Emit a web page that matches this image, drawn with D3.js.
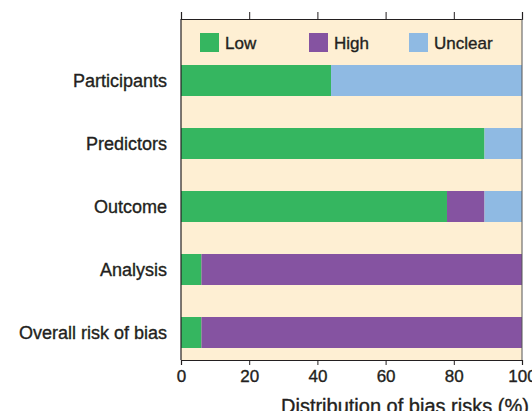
<!DOCTYPE html>
<html>
<head>
<meta charset="utf-8">
<script src="https://cdn.jsdelivr.net/npm/d3@7"></script>
<style>
  body { margin: 0; background: #fff; }
  text { font-family: "Liberation Sans", Arial, sans-serif; fill: #231f20; stroke: #231f20; stroke-width: 0.35px; }
</style>
</head>
<body>
<div id="chart"></div>
<script>
'use strict';

/*** Data */
const categories = ["Participants", "Predictors", "Outcome", "Analysis", "Overall risk of bias"];
const lowValues = [44, 89, 78, 6, 6];
const highValues = [0, 0, 11, 94, 94];
const unclearValues = [56, 11, 11, 0, 0];
const seriesNames = ["Low", "High", "Unclear"];
const xTicks = [0, 20, 40, 60, 80, 100];

/*** Dimensions */
const w = 532;
const h = 411;
const plot = { left: 181, right: 522, top: 19, bottom: 360 };
const colors = { Low: "#35b660", High: "#8553a1", Unclear: "#8fbae3" };

const svg = d3.select("#chart")
    .append("svg")
    .attr("width", w)
    .attr("height", h);

/** Scales */
const xScale = d3.scaleLinear()
    .domain([0, 100])
    .range([plot.left, plot.right]);

const yScale = d3.scaleBand()
    .domain(categories)
    .range([49, 364])
    .paddingInner(0.508)
    .paddingOuter(0.254);

/** Background */
svg.append("rect")
    .attr("x", plot.left)
    .attr("y", plot.top)
    .attr("width", plot.right - plot.left)
    .attr("height", plot.bottom - plot.top)
    .attr("fill", "#feefd3");

/** Stacked bars */
const rows = categories.map((c, i) => ({
    category: c, Low: lowValues[i], High: highValues[i], Unclear: unclearValues[i]
}));
const stacked = d3.stack().keys(seriesNames)(rows);

svg.append("g")
    .selectAll("g")
    .data(stacked)
    .join("g")
    .attr("fill", d => colors[d.key])
    .selectAll("rect")
    .data(d => d)
    .join("rect")
    .attr("x", d => xScale(d[0]))
    .attr("y", d => yScale(d.data.category))
    .attr("width", d => xScale(d[1]) - xScale(d[0]))
    .attr("height", yScale.bandwidth());

/** Axes */
const xAxis = d3.axisBottom(xScale).tickValues(xTicks).tickSize(5).tickPadding(5);
const gx = svg.append("g")
    .attr("transform", "translate(0," + plot.bottom + ")")
    .call(xAxis);
gx.selectAll("text")
    .style("font-size", "17px")
    .style("font-family", "'Liberation Sans', Arial, sans-serif")
    .attr("fill", "#231f20");

const gTop = svg.append("g")
    .attr("transform", "translate(0," + plot.top + ")")
    .call(d3.axisTop(xScale).tickValues(xTicks).tickSize(7).tickFormat(""));

[gx, gTop].forEach(g => {
    g.select(".domain").attr("stroke", "#231f20").attr("stroke-width", 1.2);
    g.selectAll(".tick line").attr("stroke", "#231f20");
});

// left and right frame lines
svg.append("line")
    .attr("x1", plot.left).attr("x2", plot.left)
    .attr("y1", plot.top).attr("y2", plot.bottom)
    .attr("stroke", "#231f20").attr("stroke-width", 1.2);
svg.append("line")
    .attr("x1", plot.right).attr("x2", plot.right)
    .attr("y1", plot.top).attr("y2", plot.bottom)
    .attr("stroke", "#555").attr("stroke-width", 1);

/** Category labels */
svg.append("g")
    .selectAll("text")
    .data(categories)
    .join("text")
    .attr("x", 167)
    .attr("y", d => yScale(d) + yScale.bandwidth() / 2)
    .attr("dy", "0.35em")
    .attr("text-anchor", "end")
    .style("font-size", "18px")
    .text(d => d);

/** Axis title */
svg.append("text")
    .attr("x", 281)
    .attr("y", 413)
    .style("font-size", "20px")
    .text("Distribution of bias risks (%)");

/** Legend */
const legendX = [200, 309, 409];
const legend = svg.append("g")
    .selectAll("g")
    .data(seriesNames)
    .join("g")
    .attr("transform", (d, i) => "translate(" + legendX[i] + ",33)");
legend.append("rect")
    .attr("width", 19)
    .attr("height", 19)
    .attr("fill", d => colors[d]);
legend.append("text")
    .attr("x", 25)
    .attr("y", 10)
    .attr("dy", "0.35em")
    .style("font-size", "17px")
    .text(d => d);
</script>
</body>
</html>
